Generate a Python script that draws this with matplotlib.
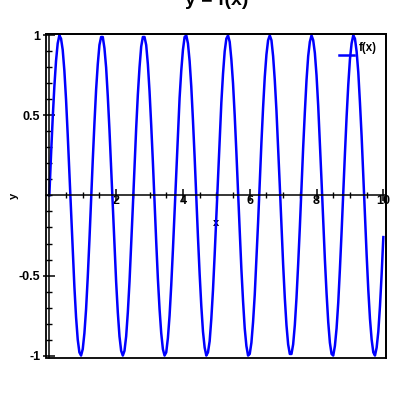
import numpy as np
import matplotlib
matplotlib.use("Agg")
import matplotlib.pyplot as plt
from matplotlib.lines import Line2D
from matplotlib.patches import Rectangle
from matplotlib.legend_handler import HandlerLine2D

plt.rcParams['font.family'] = ['Liberation Sans', 'DejaVu Sans']
plt.rcParams['axes.unicode_minus'] = False

# ---- data (x from 0 to 10) ----
title_text = "y = f(x)"
series_label = "f(x)"
x_label = "x"
y_label = "y"
x_range = [0.0, 10.0]
y_values = [
    0.00, 0.25, 0.48, 0.68, 0.84, 0.95, 1.00, 0.98, 0.91, 0.78, 0.60, 0.38, 0.14,
    -0.11, -0.35, -0.57, -0.76, -0.90, -0.98, -1.00, -0.96, -0.86, -0.71, -0.51, -0.28, -0.03,
    0.22, 0.45, 0.66, 0.82, 0.94, 0.99, 0.99, 0.92, 0.80, 0.62, 0.41, 0.17,
    -0.08, -0.32, -0.54, -0.73, -0.88, -0.97, -1.00, -0.97, -0.88, -0.73, -0.54, -0.31, -0.07,
    0.18, 0.42, 0.63, 0.80, 0.93, 0.99, 0.99, 0.94, 0.82, 0.65, 0.44, 0.21,
    -0.04, -0.29, -0.52, -0.71, -0.86, -0.96, -1.00, -0.98, -0.89, -0.75, -0.56, -0.34, -0.10,
    0.15, 0.39, 0.61, 0.78, 0.91, 0.99, 1.00, 0.95, 0.84, 0.68, 0.47, 0.24,
    -0.01, -0.26, -0.49, -0.69, -0.85, -0.95, -1.00, -0.98, -0.91, -0.77, -0.59, -0.37, -0.13,
    0.12, 0.36, 0.58, 0.76, 0.90, 0.98, 1.00, 0.96, 0.85, 0.70, 0.50, 0.27,
    0.02, -0.22, -0.46, -0.66, -0.83, -0.94, -1.00, -0.99, -0.92, -0.79, -0.62, -0.40, -0.17,
    0.08, 0.33, 0.55, 0.74, 0.88, 0.97, 1.00, 0.97, 0.87, 0.72, 0.53, 0.30,
    0.06, -0.19, -0.43, -0.64, -0.81, -0.93, -0.99, -0.99, -0.93, -0.81, -0.64, -0.43, -0.20,
    0.05, 0.30, 0.52, 0.72, 0.87, 0.96, 1.00, 0.97, 0.89, 0.75, 0.56, 0.33,
    0.09, -0.16, -0.40, -0.61, -0.79, -0.92, -0.99, -1.00, -0.94, -0.83, -0.67, -0.46, -0.23,
    0.02, 0.26, 0.49, 0.69, 0.85, 0.95, 1.00, 0.98, 0.90, 0.77, 0.58, 0.37,
    0.12, -0.13, -0.37, -0.59, -0.77, -0.90, -0.98, -1.00, -0.95, -0.85, -0.69, -0.49, -0.26,
]
x_ticks = [2, 4, 6, 8, 10]
x_tick_labels = ["2", "4", "6", "8", "10"]
y_ticks = [-1, -0.5, 0.5, 1]
y_tick_labels = ["-1", "-0.5", "0.5", "1"]

x_values = np.linspace(x_range[0], x_range[1], len(y_values))

# ---- figure ----
fig = plt.figure(figsize=(4, 4), dpi=100)
ax = fig.add_axes([0.115, 0.1055, 0.85, 0.809])

ax.plot(x_values, y_values, color=(0, 0, 1), lw=1.8, label=series_label)

ax.set_xlim(-0.1, 10.08)
ax.set_ylim(-1.014, 1.0075)

# axes through the origin
ax.spines['left'].set_position(('data', 0))
ax.spines['bottom'].set_position(('data', 0))
for s in ['left', 'bottom']:
    ax.spines[s].set_linewidth(1.1)
for s in ['top', 'right']:
    ax.spines[s].set_linewidth(1.3)
ax.add_patch(Rectangle((0, 0), 1, 1, transform=ax.transAxes, fill=False,
                       lw=1.3, edgecolor='black', clip_on=False, zorder=3))

ax.xaxis.set_ticks_position('bottom')
ax.yaxis.set_ticks_position('left')
ax.set_xticks(x_ticks)
ax.set_xticklabels(x_tick_labels)
ax.set_xticks(np.arange(0.5, 10.01, 0.5), minor=True)
ax.set_yticks(y_ticks)
ax.set_yticklabels(y_tick_labels)
ax.set_yticks(np.arange(-1.0, 1.001, 0.1), minor=True)

ax.tick_params(which='major', direction='inout', length=8, width=1.1,
               labelsize=9)
ax.tick_params(which='minor', direction='inout', length=5, width=1.0)
ax.tick_params(axis='x', which='major', pad=-4)
ax.tick_params(axis='y', which='major', pad=2.5)
for lab in ax.get_xticklabels() + ax.get_yticklabels():
    lab.set_fontweight('bold')

ax.set_xlabel(x_label, fontsize=8, fontweight='bold')
ax.xaxis.set_label_coords(0.5, 0.432)
ax.set_ylabel(y_label, fontsize=8, fontweight='bold')
ax.yaxis.set_label_coords(-0.081, 0.5)


class ShiftedHandler(HandlerLine2D):
    def create_artists(self, legend, orig_handle, xdescent, ydescent, width,
                       height, fontsize, trans):
        artists = super().create_artists(legend, orig_handle, xdescent,
                                         ydescent, width, height, fontsize,
                                         trans)
        for a in artists:
            if isinstance(a, Line2D):
                a.set_ydata([y - 6 for y in a.get_ydata()])
        return artists


handles, labels = ax.get_legend_handles_labels()
leg = ax.legend(handles, labels, loc='upper left',
                bbox_to_anchor=(0.844, 0.994), frameon=False, borderpad=0,
                handlelength=1.35, handletextpad=0.35,
                prop={'size': 8.3, 'weight': 'bold'},
                handler_map={Line2D: ShiftedHandler()})

fig.text(0.541, 0.9875, title_text, ha='center', va='baseline',
         fontsize=14, fontweight='bold')

fig.savefig("out.png", dpi=100)
